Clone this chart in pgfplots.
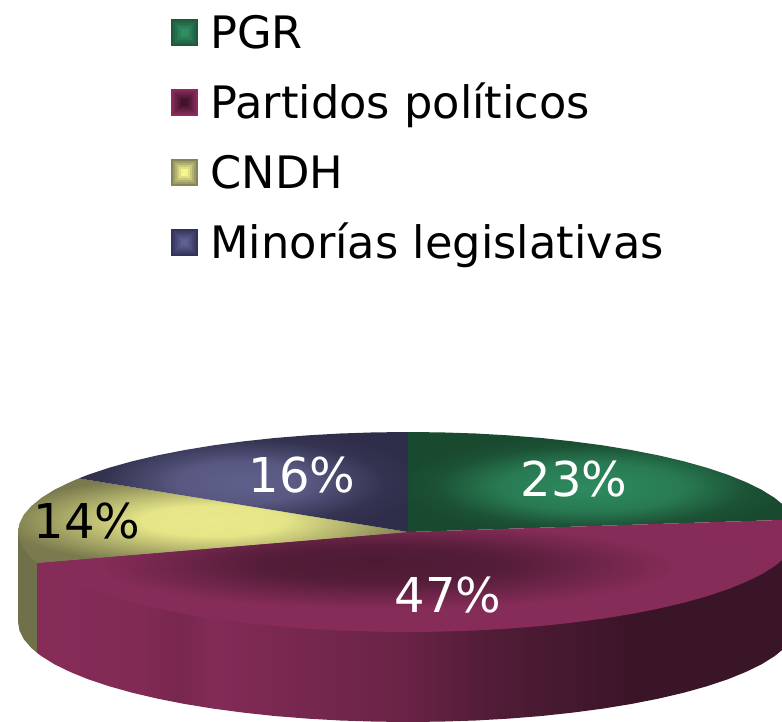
\documentclass[border=0pt]{standalone}
\usepackage{fontspec}
\setmainfont{DejaVu Sans}
\usepackage{pgfplots}
\pgfplotsset{compat=1.18}
\definecolor{gO}{HTML}{1D5A3C}\definecolor{gI}{HTML}{2F8F62}
\definecolor{mO}{HTML}{8A2D5B}\definecolor{mI}{HTML}{3F1429}
\definecolor{yO}{HTML}{85855A}\definecolor{yI}{HTML}{F6F68E}
\definecolor{bO}{HTML}{33335A}\definecolor{bI}{HTML}{5F5F91}
\definecolor{ySide}{HTML}{70704A}
\definecolor{g1}{RGB}{46,139,95}\definecolor{g2}{RGB}{40,122,82}\definecolor{g3}{RGB}{28,82,54}\definecolor{g4}{RGB}{25,74,48}
\definecolor{b1}{RGB}{95,95,140}\definecolor{b2}{RGB}{88,88,130}\definecolor{b3}{RGB}{52,52,82}\definecolor{b4}{RGB}{46,46,74}
\definecolor{y1}{RGB}{233,233,138}\definecolor{y2}{RGB}{230,230,136}\definecolor{y3}{RGB}{158,158,98}\definecolor{y4}{RGB}{122,122,78}
\definecolor{m1}{RGB}{77,26,51}\definecolor{m2}{RGB}{84,29,57}\definecolor{m3}{RGB}{134,44,88}\definecolor{m4}{RGB}{138,45,91}
\definecolor{s1}{RGB}{134,44,88}\definecolor{s2}{RGB}{128,42,84}\definecolor{s3}{RGB}{120,39,79}\definecolor{s4}{RGB}{130,43,86}
\definecolor{s5}{RGB}{106,35,70}\definecolor{s6}{RGB}{79,28,54}\definecolor{s7}{RGB}{58,20,39}
\pgfdeclareradialshading{greentop}{\pgfpoint{-1.7bp}{-3bp}}{
 color(0bp)=(g1); color(12bp)=(g2); color(20bp)=(g3); color(25bp)=(g4); color(60bp)=(g4)}
\pgfdeclareradialshading{bluetop}{\pgfpoint{0bp}{0bp}}{
 color(0bp)=(b1); color(10bp)=(b2); color(21bp)=(b3); color(27bp)=(b4); color(60bp)=(b4)}
\pgfdeclareradialshading{yellowtop}{\pgfpoint{0bp}{0bp}}{
 color(0bp)=(y1); color(9bp)=(y2); color(21bp)=(y3); color(27bp)=(y4); color(60bp)=(y4)}
\pgfdeclareradialshading{maroontop}{\pgfpoint{-2.8bp}{6.2bp}}{
 color(0bp)=(m1); color(8bp)=(m2); color(19bp)=(m3); color(60bp)=(m4)}
\pgfdeclarehorizontalshading{maroonside}{100bp}{
 color(0bp)=(s1); color(25bp)=(s1); color(32bp)=(s2); color(34.4bp)=(s3); color(36.5bp)=(s4);
 color(48.9bp)=(s5); color(55.4bp)=(s6); color(64.6bp)=(s7); color(100bp)=(s7)}
\newcommand\legsq[2]{%
 \foreach \k in {0,...,5}{%
  \pgfmathsetmacro\pc{\k*20}%
  \pgfmathsetmacro\hh{13-2*\k}%
  \fill[#2!\pc!#1] (13pt-\hh pt,3pt-\hh pt) rectangle (13pt+\hh pt,3pt+\hh pt);}}
\begin{document}
\begin{tikzpicture}
\begin{axis}[
 width=782pt,height=722pt,scale only axis,
 xmin=0,xmax=782,ymin=0,ymax=722,y dir=reverse,hide axis,
 legend cell align=left,
 legend style={at={(axis cs:171,12.5)},anchor=north west,draw=none,fill=none,
  font=\fontsize{44.7}{45}\selectfont,inner sep=0pt,outer sep=0pt,
  row sep=24pt,
  nodes={inner sep=0pt,text height=36pt,text depth=10pt},
  /tikz/every odd column/.append style={column sep=13pt}},
]
% side faces
\addplot[forget plot,draw=none,fill=ySide] coordinates {
(18,532)(408,532)(37.1,562.9)(37.1,652.9)(31.3,647.9)(23.9,639.4)(19.5,630.7)(18,622)} --cycle;
\addplot[forget plot,draw=none,shade,shading=maroonside] coordinates {
(37.1,562.9)(408,532)(798,532)
(798,622)(796.5,630.7)(792.1,639.4)(784.7,647.9)(774.5,656.2)(761.5,664.3)(745.7,672)(727.5,679.4)(706.7,686.3)(683.8,692.7)(658.7,698.6)(631.7,703.9)(603,708.6)(572.8,712.6)(541.4,716)(508.9,718.6)(475.7,720.5)(442,721.6)(408,722)(374,721.6)(340.3,720.5)(307.1,718.6)(274.6,716)(243.2,712.6)(213,708.6)(184.3,703.9)(157.3,698.6)(132.2,692.7)(109.3,686.3)(88.5,679.4)(70.3,672)(54.5,664.3)(41.5,656.2)(37.1,652.9)} --cycle;
% top faces: PGR 23, Partidos 47, CNDH 14, Minorias 16
\addplot[forget plot,draw=none,shade,shading=greentop] coordinates {
(408,532)(408,432)(442,432.4)(475.7,433.5)(508.9,435.4)(541.4,438)(572.8,441.4)(603,445.4)(631.7,450.1)(658.7,455.4)(683.8,461.3)(706.7,467.7)(727.5,474.6)(745.7,482)(761.5,489.7)(774.5,497.8)(784.7,506.1)(792.1,514.6)(794.9,519.5)} --cycle;
\addplot[forget plot,draw=none,shade,shading=maroontop] coordinates {
(408,532)(794.9,519.5)(796.5,523.3)(798,532)(796.5,540.7)(792.1,549.4)(784.7,557.9)(774.5,566.2)(761.5,574.3)(745.7,582)(727.5,589.4)(706.7,596.3)(683.8,602.7)(658.7,608.6)(631.7,613.9)(603,618.6)(572.8,622.6)(541.4,626)(508.9,628.6)(475.7,630.5)(442,631.6)(408,632)(374,631.6)(340.3,630.5)(307.1,628.6)(274.6,626)(243.2,622.6)(213,618.6)(184.3,613.9)(157.3,608.6)(132.2,602.7)(109.3,596.3)(88.5,589.4)(70.3,582)(54.5,574.3)(41.5,566.2)(37.1,562.9)} --cycle;
\addplot[forget plot,draw=none,shade,shading=yellowtop] coordinates {
(408,532)(37.1,562.9)(31.3,557.9)(23.9,549.4)(19.5,540.7)(18,532)(19.5,523.3)(23.9,514.6)(31.3,506.1)(41.5,497.8)(54.5,489.7)(70.3,482)(78.8,478.4)} --cycle;
\addplot[forget plot,draw=none,shade,shading=bluetop] coordinates {
(408,532)(78.8,478.4)(88.5,474.6)(109.3,467.7)(132.2,461.3)(157.3,455.4)(184.3,450.1)(213,445.4)(243.2,441.4)(274.6,438)(307.1,435.4)(340.3,433.5)(374,432.4)(408,432)} --cycle;
\addlegendimage{legend image code/.code={\legsq{gO}{gI}}}\addlegendentry{PGR}
\addlegendimage{legend image code/.code={\legsq{mO}{mI}}}\addlegendentry{Partidos políticos}
\addlegendimage{legend image code/.code={\legsq{yO}{yI}}}\addlegendentry{CNDH}
\addlegendimage{legend image code/.code={\legsq{bO}{bI}}}\addlegendentry{Minorías legislativas}
\node[white,font=\fontsize{48}{48}\selectfont] at (axis cs:574,479) {23\%};
\node[white,font=\fontsize{48}{48}\selectfont] at (axis cs:448,595) {47\%};
\node[white,font=\fontsize{48}{48}\selectfont] at (axis cs:302,475) {16\%};
\node[black,font=\fontsize{48}{48}\selectfont] at (axis cs:87,521) {14\%};
\end{axis}
\pgfresetboundingbox
\path[use as bounding box] (0pt,0pt) rectangle (782pt,722pt);
\end{tikzpicture}
\end{document}
